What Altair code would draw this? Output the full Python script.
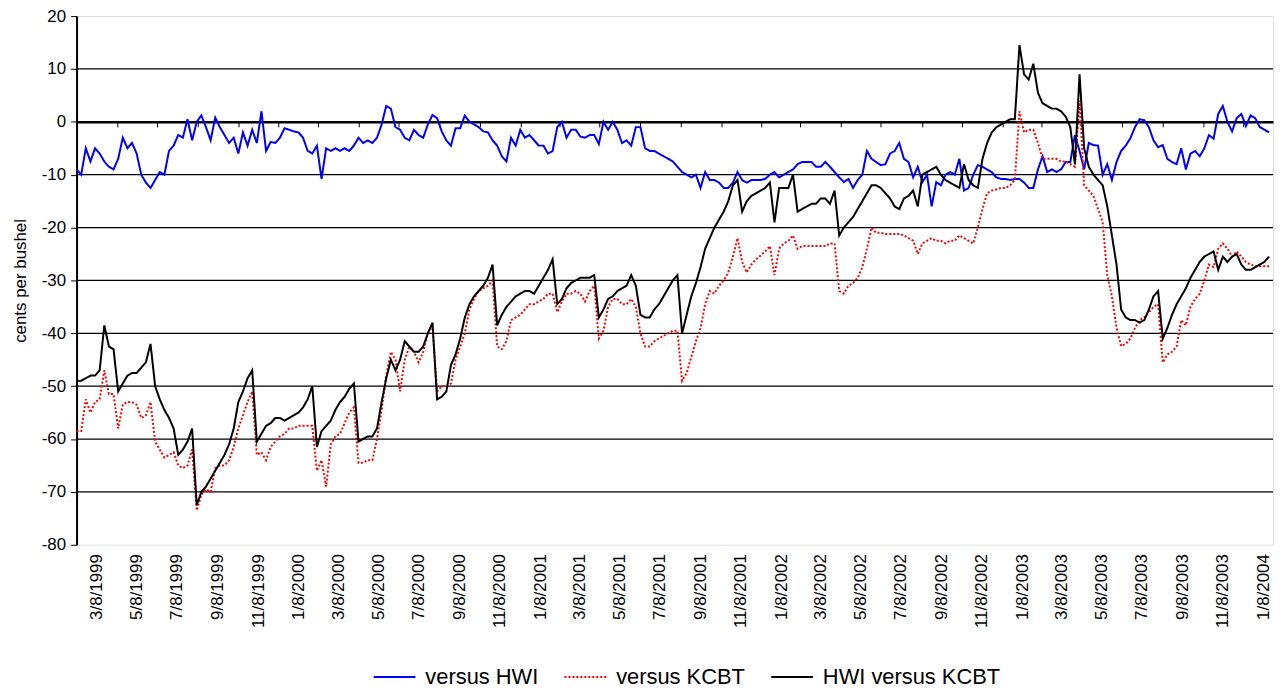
import altair as alt
import pandas as pd

SERIES = ["versus HWI", "versus KCBT", "HWI versus KCBT"]
COLORS = ["#0000FF", "#FF0000", "#000000"]
DASHES = [[1, 0], [2, 2], [1, 0]]

# weekly reading dates (x categories)
WEEKS = pd.date_range("1999-03-08", periods=259, freq="7D").strftime("%Y-%m-%d").tolist()

HWI = [
    -9, -10, -5, -7.5, -5, -6, -7.5, -8.5, -9, -7,
    -3, -5, -4, -6, -10, -11.5, -12.5, -11, -9.5, -10,
    -5.5, -4.5, -2.5, -3, 0.5, -3.5, 0, 1.2, -1, -3.5,
    0.8, -1, -2.5, -4, -3, -6, -2, -4.5, -1.5, -4,
    2, -5.5, -3.8, -4, -3, -1.2, -1.5, -1.8, -2, -3,
    -5.5, -6, -4.5, -10.8, -5, -5.5, -5, -5.5, -5, -5.5,
    -4.5, -3, -4, -3.5, -4, -3, -0.5, 3, 2.5, -1,
    -1.5, -3, -3.5, -1.5, -2.5, -3, -0.5, 1.3, 0.7, -1.8,
    -3.5, -4.5, -1.2, -1.2, 1.2, 0, -0.5, -1, -1.8, -2,
    -3.5, -4.5, -6.5, -7.5, -3, -4.5, -1.5, -3, -2.5, -3.5,
    -4.5, -4.5, -6, -5.5, -1, 0, -3, -1.5, -1.5, -2.8,
    -3, -2.5, -2.5, -4.2, 0, -1.5, 0, -1.5, -4, -3.5,
    -4.5, -1, -1, -5, -5.5, -5.5, -6, -6.5, -7, -7.5,
    -8.5, -9.5, -10, -10.5, -10, -12.5, -9.5, -11, -11, -11.5,
    -12.5, -12.5, -11.5, -9.5, -11, -11.5, -11, -11, -11, -10.8,
    -10, -9.5, -10.5, -10, -9.5, -9, -8, -7.6, -7.6, -7.6,
    -8.5, -8.5, -7.6, -8.5, -9.5, -10.5, -11.4, -10.8, -12.5, -11,
    -10, -5.5, -7, -7.6, -8.2, -8, -6, -5.5, -4, -7,
    -7.6, -10.5, -8.5, -11.4, -10, -16, -11.4, -12, -10, -9.5,
    -10, -7, -13, -12.5, -10, -8.2, -8.5, -9, -9.5, -10.5,
    -10.8, -10.8, -11, -10.8, -10.8, -11.5, -12.5, -12.5, -9, -6.5,
    -9.5, -9, -9.5, -9, -7.6, -7.6, -2.5, -5.5, -9, -4,
    -4.4, -4.5, -10, -8, -11, -7.6, -5.5, -4.5, -3.1, -1,
    0.5, 0.3, -1, -3.5, -4.8, -4.4, -7, -7.6, -8, -5,
    -9, -6, -5.5, -6.5, -5, -2.5, -3.2, 1.5, 3, 0,
    -1.8, 0.7, 1.5, -0.8, 1.2, 0.7, -1, -1.5, -2,
]

KCBT = [
    -58.5, -58.5, -52.5, -55, -53, -52.5, -47, -51.5, -51.5, -58,
    -53.5, -53, -53, -53.5, -56, -55.5, -53, -60.5, -62, -63.5,
    -63, -62.5, -65, -65.5, -65, -62, -73.5, -70.5, -69.5, -70,
    -65.5, -65, -65, -64, -61.5, -58, -55.5, -53, -51, -63,
    -62.5, -64, -61.5, -60.5, -59.5, -59, -58, -58, -57.5, -57.5,
    -57.5, -57.5, -66, -64, -69, -61, -59.5, -59, -57, -55,
    -54, -64.5, -64.5, -64, -64, -60, -54.5, -48, -43.5, -45,
    -51, -45, -42.5, -43.5, -45.5, -43.5, -40, -38.5, -51, -50,
    -50, -49.5, -45, -42.5, -40, -35.5, -33.5, -32, -31.5, -31,
    -30, -42.5, -43, -41.5, -37.5, -37, -36.5, -35.5, -34.5, -34.5,
    -34, -33.5, -32.5, -32.5, -36, -34, -32.5, -32.5, -32, -32.5,
    -34, -32, -31, -41, -39.5, -35, -33.5, -33.5, -34.5, -34.5,
    -33.5, -35, -40, -42.5, -42.5, -41.5, -41, -40.5, -40, -39.5,
    -39.5, -49, -47.5, -44.5, -41.5, -39, -34.5, -32, -32.5, -31,
    -30, -28.5, -25.5, -22, -26.5, -28.5, -27, -26, -25.3, -24.5,
    -23.5, -29, -24, -23, -22.5, -21.5, -24, -23.5, -23.5, -23.5,
    -23.5, -23.5, -23.5, -23, -23, -32, -32.5, -31, -30.5, -29.5,
    -27.5, -24, -20, -21, -21, -21.2, -21.2, -21.2, -21.2, -21.5,
    -22, -22.5, -25, -23, -22.5, -22, -22.5, -22.5, -23, -22.5,
    -22.5, -21.5, -22, -22.5, -23, -20, -16.5, -13.5, -13, -12.8,
    -12.5, -12.5, -12, -11, 2, -2, -1.5, -1.5, -4, -7,
    -7, -7, -7, -7.5, -7.5, -8, -8.5, 4, -12, -13,
    -14, -16.5, -19, -29, -33, -39, -42.4, -42, -41, -39,
    -37.5, -37, -36, -35, -34.5, -45.5, -44, -43.5, -42.5, -37.5,
    -38.5, -35, -33.5, -32.5, -30, -27, -27.5, -24, -23, -24,
    -25.5, -24.5, -25.5, -26.5, -27, -27.3, -27.3, -27.3, -27.3,
]

HWI_KCBT = [
    -49, -49, -48.5, -48, -48, -47, -38.5, -42.5, -43, -51,
    -49.5, -48, -47.5, -47.5, -46.5, -45.5, -42, -50, -52.5, -54.5,
    -56, -58, -63, -62, -60.5, -58, -72.5, -70, -69, -67.5,
    -66, -64.5, -63, -61, -58, -53, -51, -48.5, -47, -60.5,
    -59, -57.5, -57, -56, -56, -56.5, -56, -55.5, -55, -54,
    -52.5, -50, -61.5, -58.5, -57.5, -56.5, -54.5, -53, -52, -50.5,
    -49.5, -60.5, -60, -59.5, -59.5, -58, -53, -48.5, -45, -47,
    -45, -41.5, -42.5, -43.5, -43.5, -42.5, -40, -38, -52.5, -52,
    -51, -46, -44, -41, -37, -34.5, -33, -32, -31, -29.5,
    -27, -38.5, -36.5, -35, -34, -33, -32.5, -32, -32, -32.5,
    -31, -29.5, -28, -26, -34.5, -33.5, -31.5, -30.5, -30, -29.5,
    -29.5, -29.5, -29, -37, -35.5, -33.5, -33, -32, -31.5, -31,
    -29, -31, -36.5, -37, -37, -35.5, -34.5, -33, -31.5, -30,
    -29, -40, -36.5, -33, -30.5, -27.5, -24, -22, -20, -18.5,
    -17, -15, -12, -11, -17, -15, -14, -13.5, -13, -12.5,
    -11.5, -19, -12.5, -12.5, -12.5, -10, -17, -16.5, -16, -15.5,
    -15.5, -14.5, -14.5, -15.5, -13, -21.5, -20, -19, -18, -16.5,
    -15, -13.5, -12, -12, -12.5, -13.5, -14.5, -16, -16.5, -14.5,
    -14, -13, -16, -10, -9.5, -9, -8.5, -10, -11, -11.5,
    -12, -12.5, -8, -11, -12, -12.5, -7, -4, -2, -1,
    -0.5, 0, 0.5, 0.5, 14.5, 9, 8, 11, 5.5, 3.5,
    3, 2.5, 2.5, 2, 1, -1, -8, 9, -5, -8.5,
    -10, -11, -12, -16, -21.5, -27, -35.5, -37, -37.5, -37.5,
    -38, -37.5, -35.5, -33, -32, -41, -39, -36.5, -34.5, -33,
    -31.5, -29.5, -28, -26.5, -25.5, -25, -24.5, -28, -25.5, -26.5,
    -25.5, -25, -27, -28, -28, -27.5, -27, -26.5, -25.5,
]

GRID_LEVELS = [10, -10, -20, -30, -40, -50, -60, -70]
Y_TICKS = [20, 10, 0, -10, -20, -30, -40, -50, -60, -70, -80]
TICK_DATES = [
    "1999-03-08", "1999-05-08", "1999-07-08", "1999-09-08", "1999-11-08",
    "2000-01-08", "2000-03-08", "2000-05-08", "2000-07-08", "2000-09-08", "2000-11-08",
    "2001-01-08", "2001-03-08", "2001-05-08", "2001-07-08", "2001-09-08", "2001-11-08",
    "2002-01-08", "2002-03-08", "2002-05-08", "2002-07-08", "2002-09-08", "2002-11-08",
    "2003-01-08", "2003-03-08", "2003-05-08", "2003-07-08", "2003-09-08", "2003-11-08",
    "2004-01-08",
]
DOMAIN = ["1999-03-08", "2004-02-22"]

W, H = 1204, 532
FONT = "Liberation Sans"


def dt(s):
    y, m, d = (int(p) for p in s.split("-"))
    return alt.DateTime(year=y, month=m, date=d, utc=True)


rows = []
for name, vals in zip(SERIES, [HWI, KCBT, HWI_KCBT]):
    for d, v in zip(WEEKS, vals):
        rows.append({"date": d, "series": name, "value": v})
df = pd.DataFrame(rows)

xscale = alt.Scale(type="utc", domain=[dt(DOMAIN[0]), dt(DOMAIN[1])])
yscale = alt.Scale(domain=[-80, 20], nice=False, zero=False)

tick_vals = [dt(s) for s in TICK_DATES]

grid = alt.Chart(pd.DataFrame({"level": GRID_LEVELS})).mark_rule(
    color="black", strokeWidth=1.2
).encode(
    y=alt.Y("level:Q", scale=yscale, axis=alt.Axis(
        values=Y_TICKS, title="cents per bushel", titleFontSize=17, titleFontWeight="normal",
        titleFont=FONT, titleColor="black", titlePadding=12,
        labelExpr="'' + datum.value",
        labelFontSize=17, labelFont=FONT, labelColor="black", labelPadding=5,
        domainColor="black", domainWidth=2, tickColor="black", tickSize=6, tickWidth=1,
        grid=False,
    ))
)

legend_cfg = dict(title=None, orient="none", legendX=298, legendY=643,
                  direction="horizontal", symbolType="stroke", symbolSize=1764,
                  symbolStrokeWidth=2, labelFontSize=22, labelFont=FONT,
                  labelColor="black", labelOffset=9, columnPadding=22, labelLimit=500)

lines = alt.Chart(df).mark_line(strokeWidth=2).encode(
    x=alt.X("date:T", scale=xscale, axis=alt.Axis(
        orient="bottom", values=tick_vals, title=None, domain=False, ticks=False, grid=False,
        labelExpr="utcFormat(datum.value, '%-m/%-d/%Y')", labelAngle=270,
        labelOffset=20, labelPadding=9, labelFontSize=17, labelFont=FONT, labelColor="black",
        labelOverlap=False, labelFlush=False, labelBound=False,
    )),
    y=alt.Y("value:Q", scale=yscale),
    color=alt.Color("series:N", scale=alt.Scale(domain=SERIES, range=COLORS),
                    legend=alt.Legend(**legend_cfg)),
    strokeDash=alt.StrokeDash("series:N", scale=alt.Scale(domain=SERIES, range=DASHES),
                              legend=alt.Legend(**legend_cfg)),
)

zero_axis = alt.Chart(pd.DataFrame({"date": TICK_DATES})).mark_rule(opacity=0).encode(
    x=alt.X("date:T", scale=xscale, axis=alt.Axis(
        orient="bottom", offset=-H * 0.8, values=tick_vals, labels=False, title=None,
        domain=True, domainColor="black", domainWidth=2.5, ticks=True, tickColor="black",
        tickSize=5, tickWidth=1, grid=False,
    ))
)

chart = alt.layer(grid, lines, zero_axis).resolve_axis(x="independent").properties(
    width=W, height=H,
    autosize=alt.AutoSizeParams(type="none"),
    padding={"left": 69, "top": 6, "right": 1, "bottom": 144},
).configure_view(stroke="#808080", strokeWidth=2).configure(font=FONT)

chart.save("out.html", embed_options={"renderer": "svg", "actions": False})
